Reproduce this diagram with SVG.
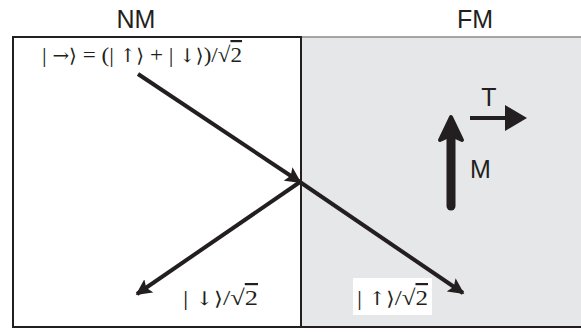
<svg xmlns="http://www.w3.org/2000/svg" width="581" height="332" viewBox="0 0 581 332">
<style>
.hdr{font-family:"Liberation Sans",Arial,sans-serif;font-size:25px;fill:#231f20}
.math{font-family:"Liberation Serif","DejaVu Serif",serif;font-size:22px;fill:#231f20}
.sym{font-family:"DejaVu Serif",serif;font-weight:normal;font-size:19px}
.ol{text-decoration:overline}
.arr{stroke:#231f20;stroke-width:4;fill:none}
</style>
<defs>
<marker id="ah" viewBox="0 0 10 10" refX="9" refY="5" markerWidth="4" markerHeight="4" orient="auto" markerUnits="strokeWidth">
<path d="M0,0 L10,5 L0,10 L2,5 z" fill="#231f20"/>
</marker>
</defs>
<g id="fm-region">
<rect x="301" y="37" width="280" height="290" fill="#e6e7e9"/>
<line x1="301" y1="37" x2="581" y2="37" stroke="#8a8a8a" stroke-width="1.5"/>
<line x1="301" y1="327" x2="581" y2="327" stroke="#231f20" stroke-width="2"/>
</g>
<g id="nm-region">
<rect x="13" y="37" width="288" height="290" fill="#ffffff" stroke="#231f20" stroke-width="2"/>
</g>
<g id="labels">
<text class="hdr" x="136" y="28" text-anchor="middle">NM</text>
<text class="hdr" x="475" y="28" text-anchor="middle">FM</text>
<text class="math" x="42" y="62" textLength="200" lengthAdjust="spacingAndGlyphs">| <tspan class="sym">→⟩</tspan> = (| <tspan class="sym">↑⟩</tspan> + | <tspan class="sym">↓⟩</tspan>)/√<tspan class="ol">2</tspan></text>
<text class="math" x="183" y="305" textLength="75" lengthAdjust="spacingAndGlyphs">| <tspan class="sym">↓⟩</tspan>/√<tspan class="ol">2</tspan></text>
<rect x="353" y="278" width="79" height="37" fill="#ffffff"/>
<text class="math" x="357" y="305" textLength="71" lengthAdjust="spacingAndGlyphs">| <tspan class="sym">↑⟩</tspan>/√<tspan class="ol">2</tspan></text>
</g>
<g id="connectors">
<line class="arr" x1="138" y1="74" x2="300" y2="182" marker-end="url(#ah)"/>
<line class="arr" x1="300" y1="182" x2="463" y2="293" marker-end="url(#ah)"/>
<line class="arr" x1="300" y1="182" x2="137" y2="294" marker-end="url(#ah)"/>
</g>
<g id="magnetization">
<line x1="451" y1="206" x2="451" y2="132" stroke="#231f20" stroke-width="9" stroke-linecap="round"/>
<path d="M451,117 L462,140 L451,135 L440,140 Z" fill="#231f20" stroke="#231f20" stroke-width="4" stroke-linejoin="round"/>
<text class="hdr" x="470" y="178" font-size="24">M</text>
</g>
<g id="torque">
<line x1="470" y1="118" x2="508" y2="118" stroke="#231f20" stroke-width="4"/>
<path d="M505,105 L527,118 L505,131 Z" fill="#231f20"/>
<text class="hdr" x="489" y="106" text-anchor="middle" font-size="24">T</text>
</g>
</svg>
